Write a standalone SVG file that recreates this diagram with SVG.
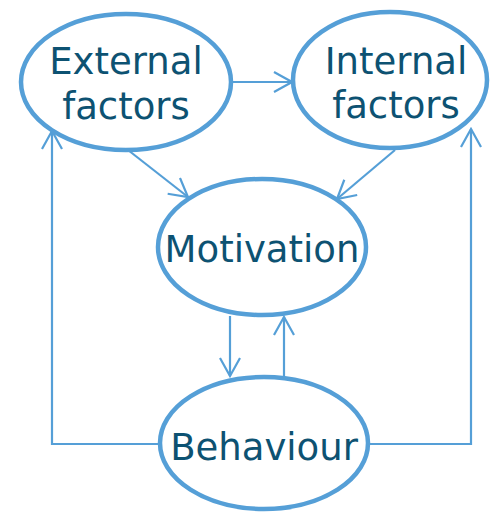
<svg xmlns="http://www.w3.org/2000/svg" width="490" height="512" viewBox="0 0 490 512">
  <style>
    .node ellipse { fill: #ffffff; stroke: #559fd7; stroke-width: 4.5; }
    .node text { font-family: "DejaVu Sans", Verdana, sans-serif; font-size: 37px; fill: #0d5272; text-anchor: middle; }
    .edge { fill: none; stroke: #559fd7; stroke-width: 2.2; marker-end: url(#open); }
  </style>
  <defs>
    <marker id="open" viewBox="-19 -11 21 22" refX="0" refY="0" markerWidth="21" markerHeight="22" markerUnits="userSpaceOnUse" orient="auto">
      <path d="M-18,-10 L0,0 L-18,10" fill="none" stroke="#559fd7" stroke-width="2.2"/>
    </marker>
  </defs>

  <g id="connectors">
    <path class="edge" d="M231,82 L292,82"/>
    <path class="edge" d="M128,150 L188,197"/>
    <path class="edge" d="M395,150 L337,199"/>
    <path class="edge" d="M230,316 L230,376"/>
    <path class="edge" d="M284,377 L284,317"/>
    <path class="edge" d="M160,444 L52,444 L52,131"/>
    <path class="edge" d="M368,444 L471,444 L471,129"/>
  </g>

  <g id="external-factors" class="node">
    <ellipse cx="126" cy="82" rx="105" ry="68"/>
    <text x="126" y="74">External</text>
    <text x="126" y="119">factors</text>
  </g>

  <g id="internal-factors" class="node">
    <ellipse cx="390" cy="80" rx="97" ry="68"/>
    <text x="396" y="74">Internal</text>
    <text x="396" y="118">factors</text>
  </g>

  <g id="motivation" class="node">
    <ellipse cx="262" cy="247" rx="104" ry="68"/>
    <text x="262" y="262">Motivation</text>
  </g>

  <g id="behaviour" class="node">
    <ellipse cx="264" cy="443" rx="104" ry="66"/>
    <text x="264" y="460">Behaviour</text>
  </g>
</svg>
